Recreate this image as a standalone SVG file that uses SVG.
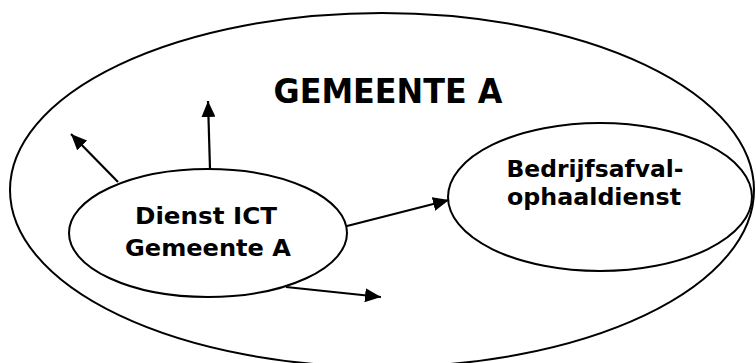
<svg xmlns="http://www.w3.org/2000/svg" width="756" height="363" viewBox="0 0 756 363">
  <defs>
    <marker id="arrow" markerUnits="userSpaceOnUse" markerWidth="18" markerHeight="14" refX="16" refY="7" orient="auto">
      <path d="M0,0 L16,7 L0,14 Z" fill="#000"/>
    </marker>
  </defs>
  <style>
    .shape { fill: #fff; stroke: #000; stroke-width: 2; }
    .link { fill: none; stroke: #000; stroke-width: 2.2; marker-end: url(#arrow); }
    .label { font-family: "DejaVu Sans", Verdana, sans-serif; font-weight: bold; fill: #000; text-anchor: middle; }
  </style>
  <rect width="756" height="363" fill="#fff"/>

  <g id="gemeente-a">
    <ellipse class="shape" cx="382" cy="190" rx="372" ry="177"/>
    <text class="label" x="388" y="103" font-size="34" textLength="229" lengthAdjust="spacingAndGlyphs">GEMEENTE A</text>
  </g>

  <g id="dienst-ict">
    <ellipse class="shape" cx="208" cy="233" rx="139" ry="64"/>
    <text class="label" x="206" y="224" font-size="23" textLength="142" lengthAdjust="spacingAndGlyphs">Dienst ICT</text>
    <text class="label" x="208" y="256" font-size="23" textLength="166" lengthAdjust="spacingAndGlyphs">Gemeente A</text>
  </g>

  <g id="bedrijfsafval">
    <ellipse class="shape" cx="600" cy="197" rx="152" ry="74"/>
    <text class="label" x="595" y="177" font-size="23" textLength="177" lengthAdjust="spacingAndGlyphs">Bedrijfsafval-</text>
    <text class="label" x="594" y="205" font-size="23" textLength="174" lengthAdjust="spacingAndGlyphs">ophaaldienst</text>
  </g>

  <g id="connectors">
    <line class="link" x1="118" y1="182" x2="71" y2="134"/>
    <line class="link" x1="210" y1="169" x2="208" y2="101"/>
    <line class="link" x1="347" y1="226" x2="449" y2="200"/>
    <line class="link" x1="286" y1="287" x2="381" y2="297"/>
  </g>
</svg>
